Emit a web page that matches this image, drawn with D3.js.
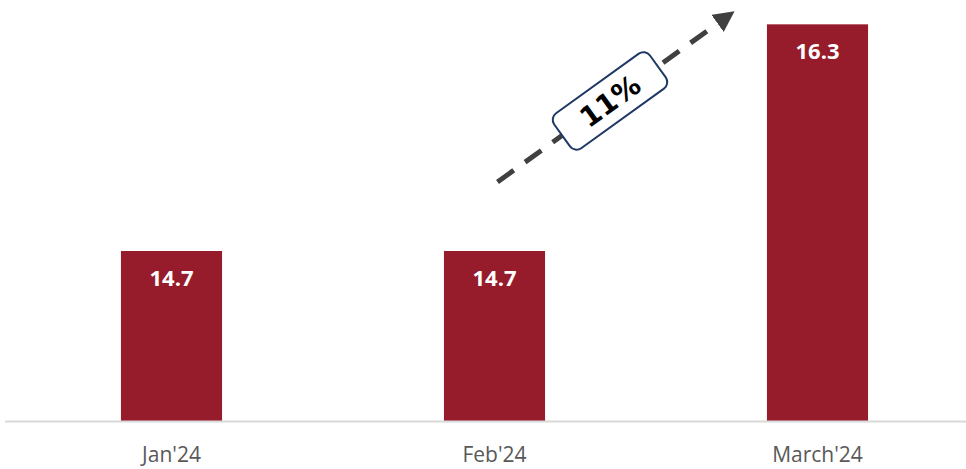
<!DOCTYPE html>
<html>
<head>
<meta charset="utf-8">
<script src="https://cdn.jsdelivr.net/npm/d3@7"></script>
<style>
  html, body { margin: 0; padding: 0; background: #fff; }
  svg { display: block; }
</style>
</head>
<body>
<svg id="chart" width="966" height="469"></svg>
<script>
const categories = ["Jan'24", "Feb'24", "March'24"];
const values = [14.7, 14.7, 16.3];
const growthLabel = "11%";
const yDomain = [13.5, 16.5];

const W = 966, H = 469;
const svg = d3.select("#chart");

const x = d3.scaleBand().domain(categories).range([10, 979]).paddingInner(0.687).paddingOuter(0.3435);
const y = d3.scaleLinear().domain(yDomain).range([421, -4]);

const data = categories.map((c, i) => ({ c, v: values[i] }));

// bars
svg.append("g").selectAll("rect").data(data).join("rect")
  .attr("x", d => x(d.c))
  .attr("y", d => y(d.v))
  .attr("width", x.bandwidth())
  .attr("height", d => y(yDomain[0]) - y(d.v))
  .attr("fill", "#961C2B");

// value labels
svg.append("g").selectAll("text").data(data).join("text")
  .attr("x", d => x(d.c) + x.bandwidth() / 2)
  .attr("y", d => y(d.v) + 35)
  .attr("text-anchor", "middle")
  .attr("font-family", "'Open Sans', sans-serif")
  .attr("font-weight", "bold")
  .attr("font-size", 22)
  .attr("fill", "#ffffff")
  .text(d => d.v.toFixed(1));

// x axis
const xAxis = svg.append("g")
  .attr("transform", `translate(0,${y(yDomain[0])})`)
  .call(d3.axisBottom(x).tickSize(0).tickPadding(26));
xAxis.select(".domain").attr("stroke", "#d9d9d9").attr("stroke-width", 2)
  .attr("d", "M5,0.5H966");
xAxis.selectAll("text")
  .attr("font-family", "'Open Sans', sans-serif")
  .attr("font-size", 21)
  .attr("fill", "#595959");

// growth arrow annotation
const defs = svg.append("defs");
defs.append("marker")
  .attr("id", "ah")
  .attr("viewBox", "0 0 10 10")
  .attr("refX", 2).attr("refY", 5)
  .attr("markerWidth", 4.2).attr("markerHeight", 4.2)
  .attr("markerUnits", "strokeWidth")
  .attr("orient", "auto")
  .append("path").attr("d", "M0,0L10,5L0,10Z").attr("fill", "#404040");

const x0 = x(categories[1]) + x.bandwidth() / 2 + 3;
const y0 = y(values[1]) - 69;
const x1 = x(categories[2]) - 46;
const y1 = y(yDomain[1]) + 25;
svg.append("line")
  .attr("x1", x0).attr("y1", y0)
  .attr("x2", x1).attr("y2", y1)
  .attr("stroke", "#404040")
  .attr("stroke-width", 5)
  .attr("stroke-dasharray", "20,14")
  .attr("marker-end", "url(#ah)");

const ang = Math.atan2(y1 - y0, x1 - x0) * 180 / Math.PI;
const cx = 610, cy = y0 + (610 - x0) * (y1 - y0) / (x1 - x0);
const g = svg.append("g").attr("transform", `translate(${cx},${cy}) rotate(${ang})`);
g.append("rect")
  .attr("x", -59).attr("y", -21.5)
  .attr("width", 118).attr("height", 43)
  .attr("rx", 8).attr("ry", 8)
  .attr("fill", "#ffffff")
  .attr("stroke", "#1F3864")
  .attr("stroke-width", 2);
g.append("text")
  .attr("x", 0).attr("y", 10)
  .attr("text-anchor", "middle")
  .attr("font-family", "'DejaVu Sans', sans-serif")
  .attr("font-weight", "bold")
  .attr("font-size", 28)
  .attr("fill", "#000000")
  .text(growthLabel);
</script>
</body>
</html>
